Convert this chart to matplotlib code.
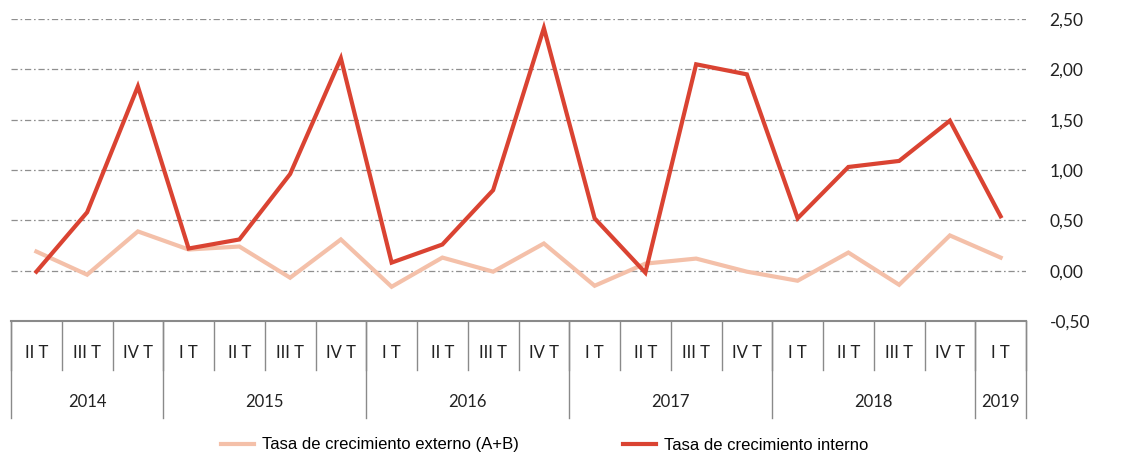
import matplotlib
matplotlib.use('Agg')
import matplotlib.pyplot as plt
import matplotlib.transforms as mtransforms
from matplotlib.lines import Line2D

quarters = ['II T', 'III T', 'IV T',
            'I T', 'II T', 'III T', 'IV T',
            'I T', 'II T', 'III T', 'IV T',
            'I T', 'II T', 'III T', 'IV T',
            'I T', 'II T', 'III T', 'IV T',
            'I T']
years = ['2014', '2015', '2016', '2017', '2018', '2019']
year_counts = [3, 4, 4, 4, 4, 1]

externo = [0.19, -0.04, 0.39, 0.21, 0.24, -0.07, 0.31, -0.16, 0.13, -0.01,
           0.27, -0.15, 0.07, 0.12, -0.01, -0.10, 0.18, -0.14, 0.35, 0.13]
interno = [-0.01, 0.58, 1.83, 0.22, 0.31, 0.96, 2.11, 0.08, 0.26, 0.80,
           2.41, 0.52, -0.02, 2.05, 1.95, 0.52, 1.03, 1.09, 1.49, 0.54]

c_ext = '#F4C0A9'
c_int = '#DA4332'
c_grid = '#8f8f8f'
c_axis = '#8a8a8a'

plt.rcParams['lines.scale_dashes'] = False

fig = plt.figure(figsize=(11.3, 4.59), dpi=100)
ax = fig.add_axes([11 / 1130, 1 - 321 / 459, (1026 - 11) / 1130, (321 - 19) / 459])

x = list(range(len(quarters)))
ax.set_xlim(-0.5, len(quarters) - 0.5)
ax.set_ylim(-0.5, 2.5)

for v in [0.0, 0.5, 1.0, 1.5, 2.0, 2.5]:
    ax.axhline(v, color=c_grid, lw=0.9, dashes=(4.5, 2, 1.2, 2), zorder=1)

ax.plot(x, externo, color=c_ext, lw=3.0, solid_joinstyle='miter', zorder=2,
        label='Tasa de crecimiento externo (A+B)')
ax.plot(x, interno, color=c_int, lw=3.0, solid_joinstyle='miter', zorder=3,
        label='Tasa de crecimiento interno')

for s in ['top', 'left', 'right']:
    ax.spines[s].set_visible(False)
ax.spines['bottom'].set_color(c_axis)
ax.spines['bottom'].set_linewidth(1.5)

ax.yaxis.tick_right()
ax.set_yticks([-0.5, 0.0, 0.5, 1.0, 1.5, 2.0, 2.5])
ax.set_yticklabels([f'{v:.2f}'.replace('.', ',') for v in ax.get_yticks()],
                   fontfamily='Lato', fontsize=12.5, color='#222222')
ax.tick_params(axis='y', length=0, pad=17)
ax.set_xticks([])

# two-level category axis
trans = mtransforms.blended_transform_factory(ax.transData, ax.transAxes)
y_q_bot = -49 / 302
y_y_bot = -97 / 302
for i in range(len(quarters) + 1):
    ax.add_line(Line2D([i - 0.5, i - 0.5], [0, y_q_bot], transform=trans,
                       color=c_axis, lw=1.0, clip_on=False))
for i, q in enumerate(quarters):
    ax.text(i, -32 / 302, q, transform=trans, ha='center', va='center',
            fontfamily='Lato', fontsize=12, color='#222222')
start = 0
for yr, n in zip(years, year_counts):
    ax.add_line(Line2D([start - 0.5, start - 0.5], [0, y_y_bot], transform=trans,
                       color=c_axis, lw=1.0, clip_on=False))
    ax.text(start + (n - 1) / 2, -81 / 302, yr, transform=trans, ha='center',
            va='center', fontfamily='Lato', fontsize=12, color='#222222')
    start += n
ax.add_line(Line2D([start - 0.5, start - 0.5], [0, y_y_bot], transform=trans,
                   color=c_axis, lw=1.0, clip_on=False))

fig.legend(loc='center', bbox_to_anchor=(0.482, 1 - 445 / 459), ncol=2,
           frameon=False, prop={'family': 'Liberation Sans', 'size': 12},
           handlelength=2.0, handletextpad=0.5, columnspacing=6.2)

fig.savefig('out.png', dpi=100)
